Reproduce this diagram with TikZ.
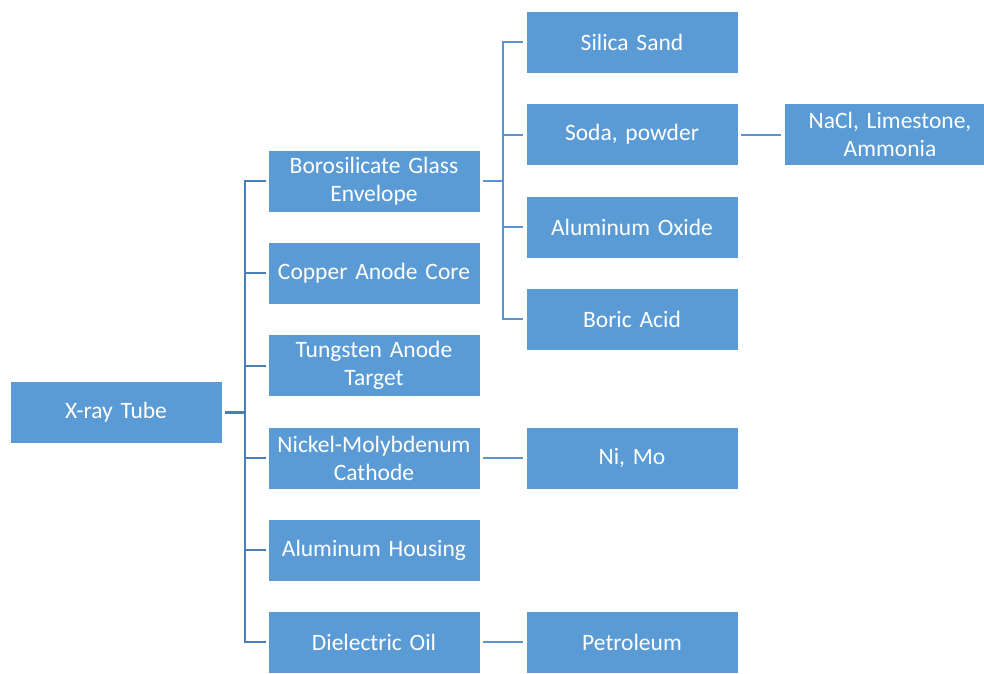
\documentclass[tikz,border=0pt]{standalone}
\usepackage{fontspec}
\setmainfont{Carlito}
\begin{document}
\definecolor{boxfill}{HTML}{5B9BD5}
\definecolor{treeA}{HTML}{4A7EB4}
\definecolor{treeB}{HTML}{5A93CD}
\begin{tikzpicture}[x=1pt,y=-1pt,
  item/.style={fill=boxfill,draw=white,line width=0.6pt,text=white,
    minimum width=212pt,minimum height=62pt,inner sep=0pt,
    text width=206pt,align=center,
    font=\fontsize{23.5}{28}\selectfont},
  linkA/.style={draw=treeA,line width=2pt,shorten >=2pt},
  linkB/.style={draw=treeB,line width=2pt,shorten >=3pt,shorten <=3pt},
  stubA/.style={draw=treeA,line width=3pt},
  stubB/.style={draw=treeB,line width=2pt}]
\clip (0,0) rectangle (984,673);
\fill[white] (0,0) rectangle (984,673);

% root
\node[item] (xray) at (116,412) {X-ray Tube};

% components
\node[item] (boro) at (374,181)   {Borosilicate Glass\\Envelope};
\node[item] (copper) at (374,273) {Copper Anode Core};
\node[item] (tung) at (374,365.5) {Tungsten Anode\\Target};
\node[item] (nick) at (374,458)   {Nickel-Molybdenum\\Cathode};
\node[item] (hous) at (374,550)   {Aluminum Housing};
\node[item] (diel) at (374,642)   {Dielectric Oil};

% raw materials
\node[item] (silica) at (632,42)  {Silica Sand};
\node[item] (soda) at (632,134.5) {Soda, powder};
\node[item] (alox) at (632,227)   {Aluminum Oxide};
\node[item] (boric) at (632,319)  {Boric Acid};
\node[item] (nimo) at (632,458)   {Ni, Mo};
\node[item] (petro) at (632,642)  {Petroleum};
\node[item] (nacl) at (890,134.5) {NaCl, Limestone,\\Ammonia};

% bus from the root
\coordinate (busA) at (245,412);
\draw[stubA] ([xshift=3pt]xray.east) -- (busA);
\foreach \c in {boro,copper,tung,nick,hous,diel}
  \draw[linkA] (busA) |- (\c.west);

% bus from the glass envelope
\coordinate (busB) at (502.5,181);
\draw[stubB] ([xshift=3pt]boro.east) -- (busB);
\foreach \c in {silica,soda,alox,boric}
  \draw[linkB,shorten <=0pt] (busB) |- (\c.west);

% single links
\draw[linkB] (soda.east) -- (nacl.west);
\draw[linkB] (nick.east) -- (nimo.west);
\draw[linkB] (diel.east) -- (petro.west);
\end{tikzpicture}
\end{document}
